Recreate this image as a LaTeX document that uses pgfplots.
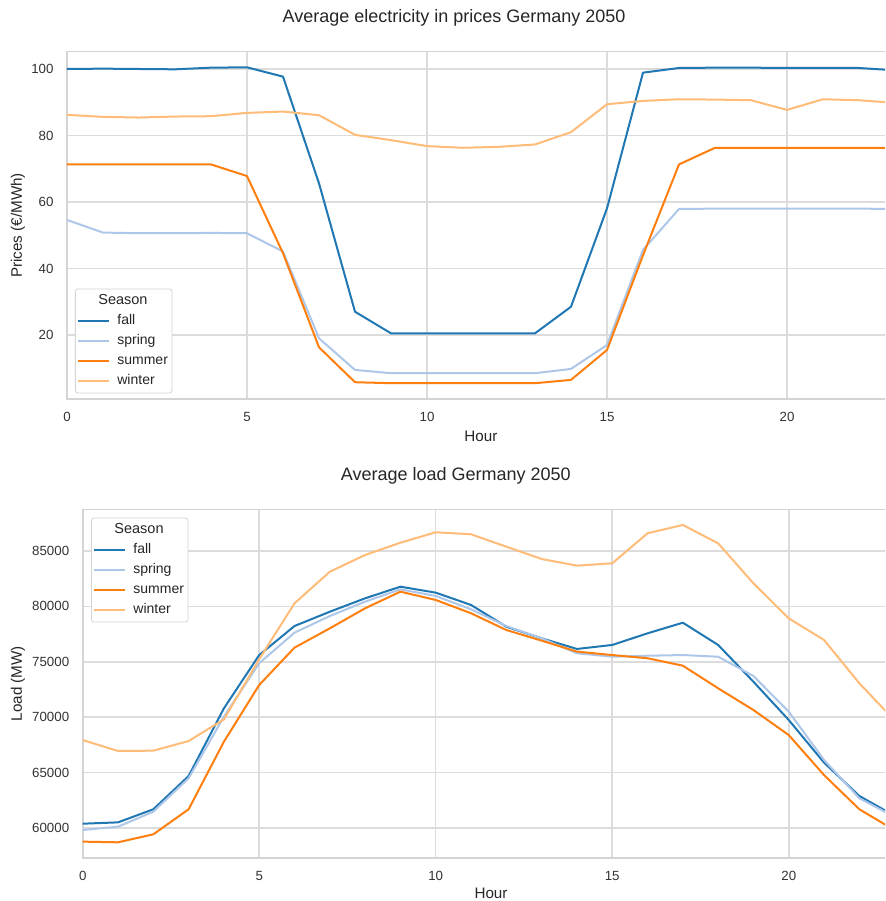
\documentclass[border=0pt]{standalone}
\usepackage{fontspec}
\setmainfont{Liberation Sans}
\usepackage{pgfplots}
\pgfplotsset{compat=1.18}
\usepackage{pgfplotstable}
\definecolor{cfall}{HTML}{1F77B4}
\definecolor{cspring}{HTML}{AEC7E8}
\definecolor{csummer}{HTML}{FF7F0E}
\definecolor{cwinter}{HTML}{FFBB78}
\definecolor{gridc}{HTML}{DCDCDC}
\definecolor{framec}{HTML}{D4D4D4}
\definecolor{txt}{HTML}{262626}
\definecolor{ticktxt}{HTML}{333333}

\pgfplotstableread{
h fall spring summer winter
0 100.0 54.6 71.3 86.2
1 100.1 50.8 71.3 85.6
2 100.0 50.6 71.3 85.4
3 99.9 50.6 71.3 85.7
4 100.4 50.7 71.3 85.8
5 100.5 50.6 67.8 86.8
6 97.7 45.1 44.6 87.2
7 65.6 19.0 16.3 86.1
8 27.0 9.5 5.8 80.2
9 20.5 8.5 5.5 78.6
10 20.5 8.5 5.5 76.8
11 20.5 8.5 5.5 76.3
12 20.5 8.5 5.5 76.6
13 20.5 8.5 5.5 77.3
14 28.5 9.8 6.5 81.0
15 58.1 17.0 15.5 89.4
16 98.9 45.6 44.0 90.4
17 100.3 57.9 71.3 90.9
18 100.4 58.0 76.3 90.8
19 100.4 58.0 76.3 90.6
20 100.3 58.0 76.3 87.7
21 100.3 58.0 76.3 90.9
22 100.3 58.0 76.3 90.6
23 99.6 57.9 76.3 89.8
}\prices

\pgfplotstableread{
h fall spring summer winter
0 60390 59820 58770 67940
1 60510 60120 58710 66950
2 61690 61470 59430 66980
3 64690 64490 61690 67850
4 70800 70050 67790 69800
5 75610 74870 72910 75230
6 78230 77630 76280 80280
7 79520 79130 78020 83130
8 80730 80430 79830 84640
9 81780 81540 81330 85750
10 81240 80940 80580 86690
11 80130 79740 79380 86510
12 78170 78230 77870 85390
13 77120 77120 76910 84280
14 76160 75770 75920 83680
15 76520 75460 75610 83890
16 77570 75550 75320 86600
17 78530 75610 74650 87350
18 76520 75460 72610 85690
19 73200 73720 70650 82080
20 69750 70500 68390 78920
21 65900 66140 64780 76970
22 62890 62680 61690 73060
23 61100 61000 59800 69700
}\load

\pgfplotsset{
  sea/.style={
    scale only axis,
    anchor=south west,
    xmin=0,
    xtick={0,5,10,15,20},
    grid=major,
    major grid style={gridc, line width=1.5pt},
    axis line style={framec, line width=1.6pt},
    major tick length=0pt,
    tick label style={font=\fontsize{13.3}{15}\selectfont, text=ticktxt},
    /pgf/number format/assume math mode=true,
    xticklabel style={yshift=-10pt},
    yticklabel style={xshift=-10pt},
    label style={font=\fontsize{15.2}{17}\selectfont, text=txt},
    title style={font=\fontsize{18}{21}\selectfont, text=txt},
    every axis title shift=0pt,
    scaled ticks=false,
    /pgf/number format/1000 sep={},
    every axis plot/.append style={line width=2pt, line join=round},
    legend cell align=left,
    legend image code/.code={\draw[#1] (0pt,0pt) -- (31pt,0pt);},
    legend style={draw=framec, line width=0.8pt, rounded corners=2.5pt, fill=white,
      font=\fontsize{14}{16}\selectfont, text=txt,
      inner xsep=2pt, inner ysep=2pt, row sep=0pt, column sep=5pt,
      nodes={inner xsep=2pt, inner ysep=3.25pt, text height=10.5pt, text depth=3pt}},
  }
}

\begin{document}
\begin{tikzpicture}
\path[use as bounding box] (0pt,0pt) rectangle (885pt,-901pt);
\clip (0pt,0pt) rectangle (885pt,-901pt);
\fill[white] (0pt,0pt) rectangle (885pt,-901pt);

\begin{axis}[sea,
  at={(67pt,-399pt)},
  width=822pt, height=347.3pt,
  xmax=22.833,
  ymin=0.75, ymax=105.2,
  ytick={20,40,60,80,100},
  title={Average electricity in prices Germany 2050},
  title style={at={(axis description cs:0.4708,1)}, anchor=center, yshift=33.7pt},
  xlabel={Hour},
  xlabel style={at={(axis description cs:0.5036,-0.1065)}, anchor=center},
  ylabel={Prices (€/MWh)},
  ylabel style={at={(axis description cs:-0.0596,0.5)}, anchor=center},
  legend style={at={(axis description cs:0.0097,0.0164)}, anchor=south west},
]
\addlegendimage{empty legend}
\addlegendentry{\hspace*{-19pt}\fontsize{14.5}{16}\selectfont Season}
\addplot[cfall] table[x=h,y=fall] {\prices};
\addlegendentry{fall}
\addplot[cspring] table[x=h,y=spring] {\prices};
\addlegendentry{spring}
\addplot[csummer] table[x=h,y=summer] {\prices};
\addlegendentry{summer}
\addplot[cwinter] table[x=h,y=winter] {\prices};
\addlegendentry{winter}
\end{axis}

\begin{axis}[sea,
  at={(82.7pt,-857.7pt)},
  width=806.3pt, height=348.4pt,
  xmax=22.84,
  ymin=57320, ymax=88763,
  ytick={60000,65000,70000,75000,80000,85000},
  title={Average load Germany 2050},
  title style={at={(axis description cs:0.4627,1)}, anchor=center, yshift=33.3pt},
  xlabel={Hour},
  xlabel style={at={(axis description cs:0.5064,-0.101)}, anchor=center},
  ylabel={Load (MW)},
  ylabel style={at={(axis description cs:-0.0802,0.5)}, anchor=center},
  legend style={at={(axis description cs:0.0103,0.976)}, anchor=north west},
]
\addlegendimage{empty legend}
\addlegendentry{\hspace*{-19pt}\fontsize{14.5}{16}\selectfont Season}
\addplot[cfall] table[x=h,y=fall] {\load};
\addlegendentry{fall}
\addplot[cspring] table[x=h,y=spring] {\load};
\addlegendentry{spring}
\addplot[csummer] table[x=h,y=summer] {\load};
\addlegendentry{summer}
\addplot[cwinter] table[x=h,y=winter] {\load};
\addlegendentry{winter}
\end{axis}
\end{tikzpicture}
\end{document}
